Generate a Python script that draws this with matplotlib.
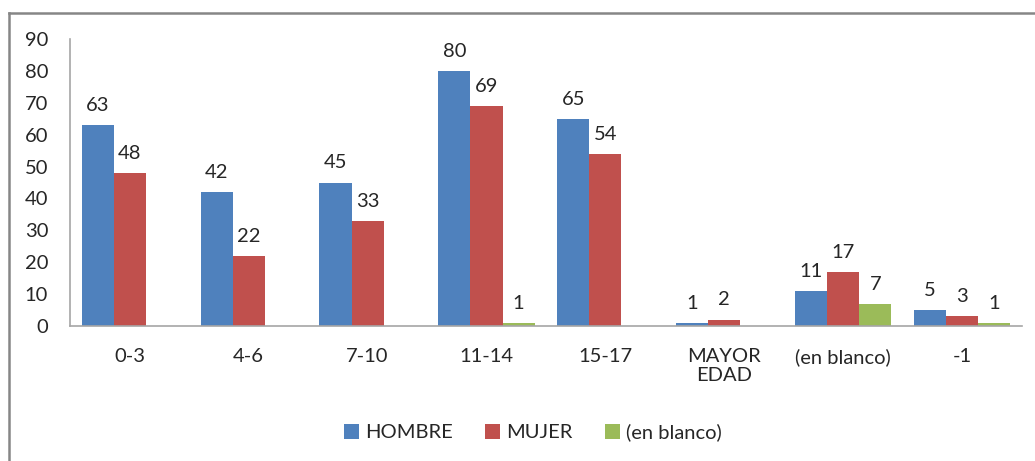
#
# Grouped bar chart: age groups by sex
#

import matplotlib.pyplot as plt
from matplotlib.lines import Line2D
import numpy as np

categories = ['0-3', '4-6', '7-10', '11-14', '15-17', 'MAYOR\nEDAD',
              '(en blanco)', '-1']
hombre = [63, 42, 45, 80, 65, 1, 11, 5]
mujer = [48, 22, 33, 69, 54, 2, 17, 3]
en_blanco = [None, None, None, 1, None, None, 7, 1]

series_names = ['HOMBRE', 'MUJER', '(en blanco)']
colors = ['#4F81BD', '#C0504D', '#9BBB59']


def make_plot():
    plt.rcParams['font.family'] = ['Lato', 'DejaVu Sans']
    fig = plt.figure(figsize=(10.35, 4.61), dpi=100)
    ax = fig.add_axes([0.068, 0.293, 0.919, 0.622])

    x = np.arange(len(categories))
    width = 0.27
    for i, (vals, name, color) in enumerate(
            zip([hombre, mujer, en_blanco], series_names, colors)):
        pos = x + (i - 1) * width
        heights = [v if v is not None else 0 for v in vals]
        ax.bar(pos, heights, width, color=color, label=name)
        for p, v in zip(pos, vals):
            if v is None:
                continue
            ax.annotate(str(v), (p, v), xytext=(0, 8),
                        textcoords='offset points', ha='center',
                        va='bottom', fontsize=14.5, color='#262626')

    ax.set_xlim(-0.5, len(categories) - 0.5)
    ax.set_ylim(0, 90)
    ax.set_yticks(range(0, 91, 10))
    ax.set_xticks(x)
    ax.set_xticklabels(categories, fontsize=14.5, color='#262626',
                       linespacing=1.1)
    ax.tick_params(axis='y', labelsize=14.5, colors='#262626', length=0,
                   pad=16)
    ax.tick_params(axis='x', length=0, pad=16)
    for s in ['top', 'right']:
        ax.spines[s].set_visible(False)
    for s in ['left', 'bottom']:
        ax.spines[s].set_color('#A6A6A6')
        ax.spines[s].set_linewidth(1.2)

    handles, labels = ax.get_legend_handles_labels()
    fig.legend(handles, labels, loc='center', bbox_to_anchor=(0.515, 0.062),
               ncol=3, frameon=False, fontsize=14.5, handlelength=0.75,
               handleheight=0.75, handletextpad=0.3, columnspacing=1.6,
               labelcolor='#262626')

    # chart area border (only top and left visible in the crop)
    fig.add_artist(Line2D([9 / 1035, 1.0], [1 - 13 / 461, 1 - 13 / 461],
                          transform=fig.transFigure, color='#868686',
                          linewidth=1.8))
    fig.add_artist(Line2D([9 / 1035, 9 / 1035], [0, 1 - 13 / 461],
                          transform=fig.transFigure, color='#868686',
                          linewidth=1.8))

    fig.savefig('out.png', dpi=100)


if __name__ == '__main__':
    make_plot()
